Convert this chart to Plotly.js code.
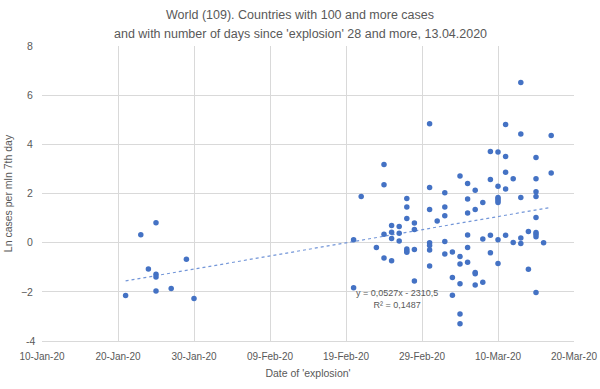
<!DOCTYPE html>
<html>
<head>
<meta charset="utf-8">
<script src="https://cdn.plot.ly/plotly-3.0.1.min.js"></script>
<style>html,body{margin:0;padding:0;background:#fff;}#chart{width:600px;height:389px;}</style>
</head>
<body>
<div id="chart"></div>
<script>
// Date of 'explosion' for each country
const dates = [
  "2020-01-21","2020-01-23","2020-01-24",
  "2020-01-25","2020-01-25","2020-01-25","2020-01-25",
  "2020-01-27","2020-01-29","2020-01-30",
  "2020-02-20","2020-02-20","2020-02-21","2020-02-23",
  "2020-02-24","2020-02-24","2020-02-24","2020-02-24",
  "2020-02-25","2020-02-25","2020-02-25","2020-02-25",
  "2020-02-26","2020-02-26","2020-02-26",
  "2020-02-27","2020-02-27","2020-02-27","2020-02-27","2020-02-27","2020-02-27",
  "2020-02-28","2020-02-28","2020-02-28","2020-02-28",
  "2020-03-01","2020-03-01","2020-03-01","2020-03-01","2020-03-01","2020-03-01","2020-03-01",
  "2020-03-02",
  "2020-03-03","2020-03-03","2020-03-03","2020-03-03","2020-03-03",
  "2020-03-04","2020-03-04","2020-03-04",
  "2020-03-05","2020-03-05","2020-03-05","2020-03-05","2020-03-05","2020-03-05",
  "2020-03-06","2020-03-06","2020-03-06","2020-03-06","2020-03-06","2020-03-06",
  "2020-03-07","2020-03-07","2020-03-07","2020-03-07","2020-03-07",
  "2020-03-08","2020-03-08","2020-03-08",
  "2020-03-09","2020-03-09","2020-03-09","2020-03-09",
  "2020-03-10","2020-03-10","2020-03-10","2020-03-10","2020-03-10","2020-03-10","2020-03-10","2020-03-10",
  "2020-03-11","2020-03-11","2020-03-11","2020-03-11","2020-03-11",
  "2020-03-12","2020-03-12",
  "2020-03-13","2020-03-13","2020-03-13","2020-03-13","2020-03-13",
  "2020-03-14","2020-03-14",
  "2020-03-15","2020-03-15","2020-03-15","2020-03-15","2020-03-15","2020-03-15","2020-03-15","2020-03-15","2020-03-15",
  "2020-03-16",
  "2020-03-17","2020-03-17"
];
// Ln cases per mln on 7th day
const lnCases = [
  -2.15, 0.32, -1.07,
  0.81, -1.28, -1.40, -1.97,
  -1.86, -0.67, -2.27,
  0.12, -1.83, 1.88, -0.20,
  3.18, 2.36, 0.34, -0.62,
  0.70, 0.42, 0.17, -0.74,
  0.66, 0.38, 0.07,
  1.80, 1.45, 0.98, -0.26, -0.33, -0.39,
  0.80, 0.54, -0.28, -1.56,
  4.84, 2.24, 1.35, 0.00, -0.12, -0.30, -0.95,
  0.88,
  2.03, 1.45, 1.09, 0.05, -0.46,
  -0.38, -1.42, -2.14,
  2.71, -0.56, -0.87, -1.67, -2.90, -3.30,
  2.41, 1.78, 1.21, 0.31, -0.20, -0.80,
  2.13, 1.35, -1.21, -1.26, -1.72,
  1.63, 0.15, -1.61,
  3.71, 2.57, 0.30, -0.41,
  3.69, 2.29, 1.84, 1.78, 1.71, 1.63, 0.12, -0.85,
  4.81, 3.51, 2.86, 2.18, 0.30,
  2.60, 0.01,
  6.52, 4.42, 1.84, 0.19, -0.03,
  0.45, -1.08,
  3.46, 2.60, 2.07, 1.88, 1.02, 0.41, 0.34, 0.24, -2.03,
  0.00,
  4.36, 2.83
];
const xTickVals = ["2020-01-10","2020-01-20","2020-01-30","2020-02-09","2020-02-19","2020-02-29","2020-03-10","2020-03-20"];
const xTickText = ["10-Jan-20","20-Jan-20","30-Jan-20","09-Feb-20","19-Feb-20","29-Feb-20","10-Mar-20","20-Mar-20"];
const yMin = -4, yMax = 8;
const yTickVals = [-2, 0, 2, 4, 6, 8];   // the bottom tick (-4) is labelled separately
const titleLine1 = "World (109). Countries with 100 and more cases";
const titleLine2 = "and with number of days since 'explosion' 28 and more, 13.04.2020";
const equationText = "y = 0,0527x - 2310,5<br>R² = 0,1487";

// Linear trend (least squares) computed from the data
const DAY = 86400000;
const xs = dates.map(d => Date.parse(d) / DAY);
const n = xs.length;
const mx = xs.reduce((a, b) => a + b, 0) / n;
const my = lnCases.reduce((a, b) => a + b, 0) / n;
let sxy = 0, sxx = 0;
for (let i = 0; i < n; i++) { sxy += (xs[i] - mx) * (lnCases[i] - my); sxx += (xs[i] - mx) * (xs[i] - mx); }
const slope = sxy / sxx;
const icpt = my - slope * mx;
const xMin = Math.min(...xs), xMax = Math.max(...xs);
const trendX = [xMin, xMax].map(v => new Date(v * DAY).toISOString().slice(0, 10));
const trendY = [xMin, xMax].map(v => icpt + slope * v);

const grey = '#595959';
const font = 'Liberation Sans, Arial, sans-serif';

const traces = [
  {
    x: trendX, y: trendY, type: 'scatter', mode: 'lines',
    line: {color: '#7396d8', width: 1.2, dash: 'dot'},
    hoverinfo: 'skip', showlegend: false
  },
  {
    x: dates, y: lnCases, type: 'scatter', mode: 'markers',
    marker: {color: '#4472C4', size: 5.5},
    showlegend: false
  }
];

const layout = {
  width: 600, height: 389,
  margin: {l: 42, r: 26, t: 46, b: 48},
  paper_bgcolor: '#ffffff', plot_bgcolor: '#ffffff',
  font: {family: font, color: grey},
  title: {
    text: titleLine1,
    font: {family: font, size: 12.5, color: grey},
    x: 0.5, xref: 'container', xanchor: 'center',
    y: 1 - 14.6 / 389, yref: 'container', yanchor: 'middle'
  },
  xaxis: {
    type: 'date',
    range: ["2020-01-10", "2020-03-20"],
    tickvals: xTickVals, ticktext: xTickText,
    showgrid: true, gridcolor: '#d9d9d9', gridwidth: 1,
    zeroline: false, showline: true, linecolor: '#d9d9d9', linewidth: 1,
    ticks: 'outside', ticklen: 6, tickcolor: 'rgba(0,0,0,0)',
    tickfont: {family: font, size: 10, color: grey},
    title: {text: "Date of 'explosion'", font: {family: font, size: 10.5, color: grey}, standoff: 8},
    fixedrange: true
  },
  yaxis: {
    range: [yMin, yMax],
    tickvals: yTickVals,
    showgrid: true, gridcolor: '#d9d9d9', gridwidth: 1,
    zeroline: false, showline: false,
    ticks: 'outside', ticklen: 6, tickcolor: 'rgba(0,0,0,0)',
    tickfont: {family: font, size: 10.5, color: grey},
    title: {text: "Ln cases per mln 7th day", font: {family: font, size: 10.5, color: grey}, standoff: 6},
    fixedrange: true
  },
  annotations: [
    {
      text: titleLine2, showarrow: false,
      xref: 'paper', x: (300 - 42) / 532, xanchor: 'center',
      yref: 'paper', y: 1 + (46 - 33.5) / 295, yanchor: 'middle',
      font: {family: font, size: 12.5, color: grey}
    },
    {
      text: equationText, showarrow: false, align: 'center',
      xref: 'paper', x: (397 - 42) / 532, xanchor: 'center',
      yref: 'paper', y: (341 - 298.5) / 295, yanchor: 'middle',
      font: {family: font, size: 9, color: grey}
    },
    {
      text: String(yMin), showarrow: false,
      xref: 'paper', x: 0, xanchor: 'right', xshift: -5,
      yref: 'y', y: yMin, yanchor: 'middle',
      font: {family: font, size: 10.5, color: grey}
    }
  ]
};

Plotly.newPlot('chart', traces, layout, {displayModeBar: false, staticPlot: true});
</script>
</body>
</html>
